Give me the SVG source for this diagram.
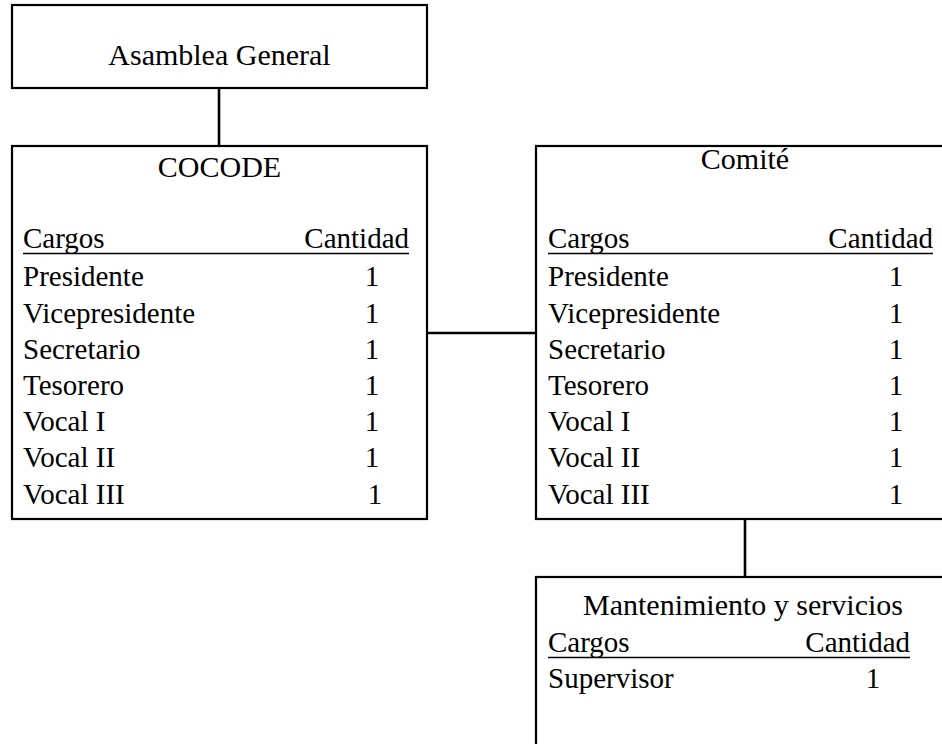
<svg xmlns="http://www.w3.org/2000/svg" width="942" height="744" viewBox="0 0 942 744">
<style>
.box{fill:#fff;stroke:#000;stroke-width:2.2}
.conn{stroke:#000;stroke-width:2.6;fill:none}
.ul{stroke:#000;stroke-width:1.6}
.h{font-size:30px;text-anchor:middle}
.t{font-size:29px}
.e{text-anchor:end}
.m{text-anchor:middle}
</style>
<rect width="942" height="744" fill="#fff"/>
<g id="connectors">
<line class="conn" x1="219" y1="88" x2="219" y2="146"/>
<line class="conn" x1="427" y1="333" x2="536" y2="333"/>
<line class="conn" x1="745" y1="519" x2="745" y2="577"/>
</g>
<g font-family="'Liberation Serif', 'Times New Roman', 'DejaVu Serif', serif" fill="#000">
<g id="asamblea">
<rect class="box" x="12" y="5" width="415" height="83"/>
<text class="h" x="219.5" y="65">Asamblea General</text>
</g>
<g id="cocode">
<rect class="box" x="12" y="146" width="415" height="373"/>
<text class="h" x="219.5" y="177">COCODE</text>
<text class="t" x="23" y="248">Cargos</text>
<text class="t e" x="409" y="248">Cantidad</text>
<line class="ul" x1="23" y1="253.5" x2="409" y2="253.5"/>
<text class="t" x="23" y="286">Presidente</text>
<text class="t" x="23" y="323">Vicepresidente</text>
<text class="t" x="23" y="359">Secretario</text>
<text class="t" x="23" y="395">Tesorero</text>
<text class="t" x="23" y="431">Vocal I</text>
<text class="t" x="23" y="467">Vocal II</text>
<text class="t" x="23" y="504">Vocal III</text>
<text class="t m" x="372" y="286">1</text>
<text class="t m" x="372" y="323">1</text>
<text class="t m" x="372" y="359">1</text>
<text class="t m" x="372" y="395">1</text>
<text class="t m" x="372" y="431">1</text>
<text class="t m" x="372" y="467">1</text>
<text class="t m" x="375" y="504">1</text>
</g>
<g id="comite">
<rect class="box" x="536" y="146" width="420" height="373"/>
<text class="h" x="745" y="169">Comité</text>
<text class="t" x="548" y="248">Cargos</text>
<text class="t e" x="933" y="248">Cantidad</text>
<line class="ul" x1="548" y1="253.5" x2="933" y2="253.5"/>
<text class="t" x="548" y="286">Presidente</text>
<text class="t" x="548" y="323">Vicepresidente</text>
<text class="t" x="548" y="359">Secretario</text>
<text class="t" x="548" y="395">Tesorero</text>
<text class="t" x="548" y="431">Vocal I</text>
<text class="t" x="548" y="467">Vocal II</text>
<text class="t" x="548" y="504">Vocal III</text>
<text class="t m" x="896" y="286">1</text>
<text class="t m" x="896" y="323">1</text>
<text class="t m" x="896" y="359">1</text>
<text class="t m" x="896" y="395">1</text>
<text class="t m" x="896" y="431">1</text>
<text class="t m" x="896" y="467">1</text>
<text class="t m" x="896" y="504">1</text>
</g>
<g id="mantenimiento">
<rect class="box" x="536" y="577" width="420" height="200"/>
<text class="h" x="743" y="615">Mantenimiento y servicios</text>
<text class="t" x="548" y="652">Cargos</text>
<text class="t e" x="910" y="652">Cantidad</text>
<line class="ul" x1="548" y1="657.5" x2="910" y2="657.5"/>
<text class="t" x="548" y="688">Supervisor</text>
<text class="t m" x="873" y="688">1</text>
</g>
</g>
</svg>
